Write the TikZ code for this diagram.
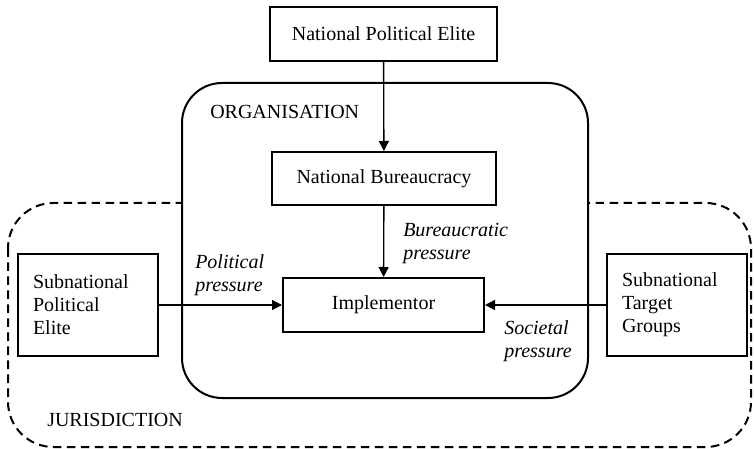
\documentclass[tikz,border=0pt]{standalone}
\usepackage{fontspec}
\setmainfont{Liberation Serif}
\usetikzlibrary{arrows.meta}
\begin{document}
\begin{tikzpicture}[x=0.75pt, y=-0.75pt, every node/.style = {font=\fontsize{15}{17.25}\selectfont}]
	\tikzset{ box/.style = {draw, line width=1.5pt, inner sep=0pt, align=center} }
	\tikzset{ sidebox/.style = {box, minimum width=105pt, minimum height=76.5pt, text width=82.5pt, align=left} }
	\tikzset{ pressure/.style = {anchor=west, inner sep=0pt, align=left, font=\fontsize{15}{17.25}\selectfont\itshape} }
	\tikzset{ push/.style = {line width=1pt, -{Triangle[length=7.5pt, width=7.5pt]}} }
	\useasboundingbox (0,0) rectangle (754,449);
	% jurisdiction and organisation
	\draw [line width=1.5pt, dash pattern=on 6.5pt off 4pt, rounded corners=34pt] (8,203) rectangle (751,447);
	\draw [line width=1.5pt, fill=white, rounded corners=30pt] (182,83) rectangle (588,398);
	\node [anchor=west, inner sep=0pt] (org) at (210,112) {ORGANISATION};
	\node [anchor=west, inner sep=0pt] (jur) at (47,420) {JURISDICTION};
	% actors
	\node [box, minimum width=170.25pt, minimum height=40.5pt] (npe) at (383.5,34) {National Political Elite};
	\node [box, minimum width=168pt, minimum height=39.75pt] (nb) at (384,178.5) {National Bureaucracy};
	\node [box, minimum width=150.75pt, minimum height=40.5pt] (impl) at (383.5,305) {Implementor};
	\node [sidebox] (spe) at (88,305) {Subnational\\Political\\Elite};
	\node [sidebox] (stg) at (677,305) {Subnational\\Target\\Groups};
	% pressures
	\draw [push] (npe) -- (nb);
	\draw [push] (nb) -- (impl);
	\draw [push] (spe) -- (impl);
	\draw [push] (stg) -- (impl);
	\node [pressure] (pol) at (195,275.5) {Political\\pressure};
	\node [pressure] (bur) at (403,243.5) {Bureaucratic\\pressure};
	\node [pressure] (soc) at (504,341) {Societal\\pressure};
\end{tikzpicture}
\end{document}
